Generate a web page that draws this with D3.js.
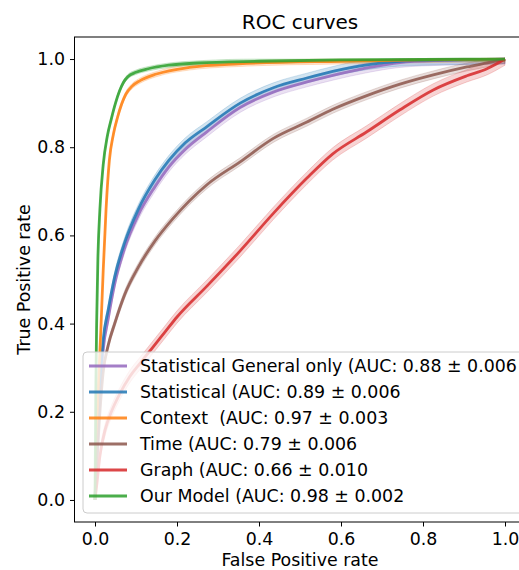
<!DOCTYPE html>
<html>
<head>
<meta charset="utf-8">
<script src="https://cdn.jsdelivr.net/npm/d3@7/dist/d3.min.js"></script>
<style>
  body { margin: 0; background: #fff; }
  text { font-family: "DejaVu Sans", sans-serif; fill: #000; }
</style>
</head>
<body>
<div id="chart"></div>
<script>
// ROC curves (mean curve + std band)

var labels = [
  "Statistical General only (AUC: 0.88 \u00b1 0.006",
  "Statistical (AUC: 0.89 \u00b1 0.006",
  "Context  (AUC: 0.97 \u00b1 0.003",
  "Time (AUC: 0.79 \u00b1 0.006",
  "Graph (AUC: 0.66 \u00b1 0.010",
  "Our Model (AUC: 0.98 \u00b1 0.002"
];
var colors = ["#9467bd", "#1f77b4", "#ff7f0e", "#8c564b", "#d62728", "#2ca02c"];
var bandStd = [0.011, 0.011, 0.006, 0.009, 0.014, 0.005];

var statGenFpr = [0, 0.005, 0.01, 0.02, 0.032, 0.048, 0.072, 0.105, 0.146, 0.18, 0.22, 0.273, 0.354, 0.435, 0.517, 0.58, 0.663, 0.744, 0.85, 1.0];
var statGenTpr = [0, 0.10, 0.20, 0.34, 0.41, 0.49, 0.57, 0.645, 0.71, 0.755, 0.795, 0.835, 0.89, 0.925, 0.948, 0.963, 0.98, 0.992, 0.997, 1.0];

var statFpr = [0, 0.005, 0.01, 0.02, 0.032, 0.048, 0.072, 0.105, 0.146, 0.18, 0.22, 0.273, 0.354, 0.435, 0.517, 0.58, 0.663, 0.744, 0.85, 1.0];
var statTpr = [0, 0.12, 0.22, 0.363, 0.43, 0.506, 0.583, 0.658, 0.726, 0.77, 0.81, 0.847, 0.9, 0.935, 0.957, 0.972, 0.987, 0.995, 0.998, 1.0];

var contextFpr = [0, 0.004, 0.008, 0.014, 0.02, 0.027, 0.035, 0.045, 0.055, 0.065, 0.075, 0.09, 0.11, 0.15, 0.23, 0.35, 0.6, 0.8, 1.0];
var contextTpr = [0, 0.13, 0.25, 0.38, 0.52, 0.66, 0.77, 0.83, 0.868, 0.898, 0.92, 0.938, 0.951, 0.966, 0.981, 0.989, 0.995, 0.998, 1.0];

var timeFpr = [0, 0.005, 0.01, 0.02, 0.032, 0.048, 0.072, 0.105, 0.146, 0.19, 0.273, 0.354, 0.435, 0.517, 0.58, 0.663, 0.744, 0.825, 0.907, 0.971, 1.0];
var timeTpr = [0, 0.09, 0.17, 0.29, 0.35, 0.40, 0.465, 0.527, 0.587, 0.638, 0.715, 0.767, 0.82, 0.857, 0.886, 0.917, 0.943, 0.964, 0.982, 0.994, 1.0];

var graphFpr = [0, 0.005, 0.012, 0.025, 0.04, 0.06, 0.085, 0.11, 0.14, 0.17, 0.2, 0.273, 0.354, 0.435, 0.517, 0.58, 0.663, 0.744, 0.825, 0.907, 0.956, 1.0];
var graphTpr = [0, 0.04, 0.10, 0.16, 0.20, 0.24, 0.28, 0.31, 0.345, 0.38, 0.415, 0.485, 0.565, 0.65, 0.73, 0.785, 0.835, 0.885, 0.93, 0.962, 0.978, 1.0];

var oursFpr = [0, 0.002, 0.004, 0.007, 0.012, 0.02, 0.03, 0.04, 0.05, 0.06, 0.07, 0.08, 0.1, 0.13, 0.18, 0.25, 0.4, 0.6, 0.8, 1.0];
var oursTpr = [0, 0.25, 0.4, 0.545, 0.66, 0.76, 0.825, 0.865, 0.9, 0.928, 0.948, 0.96, 0.97, 0.978, 0.986, 0.991, 0.995, 0.998, 0.999, 1.0];

var xTicks = [0.0, 0.2, 0.4, 0.6, 0.8, 1.0];
var yTicks = [0.0, 0.2, 0.4, 0.6, 0.8, 1.0];

var fprs = [statGenFpr, statFpr, contextFpr, timeFpr, graphFpr, oursFpr];
var tprs = [statGenTpr, statTpr, contextTpr, timeTpr, graphTpr, oursTpr];

var series = labels.map(function(name, i) {
  return {
    name: name,
    color: colors[i],
    std: bandStd[i],
    points: fprs[i].map(function(f, j) { return { fpr: f, tpr: tprs[i][j] }; })
  };
});

var svgWidth = 519;
var svgHeight = 570;

var plot = { left: 74.5, right: 525.5, top: 37, bottom: 522 };

var svg = d3.select("#chart")
  .append("svg")
  .attr("width", svgWidth)
  .attr("height", svgHeight);

var xScale = d3.scaleLinear()
  .domain([-0.05, 1.05])
  .range([plot.left, plot.right]);

var yScale = d3.scaleLinear()
  .domain([-0.05, 1.05])
  .range([plot.bottom, plot.top]);

// bands
var area = d3.area()
  .x(d => xScale(d.fpr))
  .y0(d => yScale(Math.max(d.tpr - d.s, 0)))
  .y1(d => yScale(Math.min(d.tpr + d.s, 1)))
  .curve(d3.curveMonotoneX);

var line = d3.line()
  .x(d => xScale(d.fpr))
  .y(d => yScale(d.tpr))
  .curve(d3.curveMonotoneX);

series.forEach(function(s) {
  var pts = s.points.map(p => ({ fpr: p.fpr, tpr: p.tpr, s: s.std }));
  svg.append("path")
    .attr("d", area(pts))
    .attr("fill", s.color)
    .attr("fill-opacity", 0.2)
    .attr("stroke", s.color)
    .attr("stroke-opacity", 0.2)
    .attr("stroke-width", 1);
});

series.forEach(function(s) {
  svg.append("path")
    .attr("d", line(s.points))
    .attr("fill", "none")
    .attr("stroke", s.color)
    .attr("stroke-opacity", 0.85)
    .attr("stroke-width", 2.8)
    .attr("stroke-linejoin", "round");
});

// axes
var bottomAxis = d3.axisBottom(xScale)
  .tickValues(xTicks)
  .tickFormat(d3.format(".1f"))
  .tickSize(4.5)
  .tickPadding(6);

var leftAxis = d3.axisLeft(yScale)
  .tickValues(yTicks)
  .tickFormat(d3.format(".1f"))
  .tickSize(4.5)
  .tickPadding(5);

var gx = svg.append("g")
  .attr("transform", `translate(0, ${plot.bottom})`)
  .call(bottomAxis);

var gy = svg.append("g")
  .attr("transform", `translate(${plot.left}, 0)`)
  .call(leftAxis);

[gx, gy].forEach(function(g) {
  g.select(".domain").remove();
  g.selectAll(".tick line").attr("stroke", "#000").attr("stroke-width", 1);
  g.selectAll(".tick text")
    .style("font-family", "DejaVu Sans")
    .style("font-size", "17.4px")
    .attr("fill", "#000");
});

// spines
svg.append("rect")
  .attr("x", plot.left)
  .attr("y", plot.top)
  .attr("width", plot.right - plot.left)
  .attr("height", plot.bottom - plot.top)
  .attr("fill", "none")
  .attr("stroke", "#000")
  .attr("stroke-width", 1);

// legend
var legend = svg.append("g");

legend.append("rect")
  .attr("x", 83)
  .attr("y", 352)
  .attr("width", 445)
  .attr("height", 161)
  .attr("rx", 4)
  .attr("fill", "#fff")
  .attr("fill-opacity", 0.8)
  .attr("stroke", "#ccc")
  .attr("stroke-width", 1);

series.forEach(function(s, i) {
  var yy = 366 + i * 26;
  legend.append("line")
    .attr("x1", 89)
    .attr("x2", 127)
    .attr("y1", yy)
    .attr("y2", yy)
    .attr("stroke", s.color)
    .attr("stroke-opacity", 0.85)
    .attr("stroke-width", 2.8);
  legend.append("text")
    .attr("x", 140)
    .attr("y", yy + 6)
    .attr("xml:space", "preserve")
    .style("white-space", "pre")
    .style("font-size", "17.4px")
    .text(s.name);
});

// titles
svg.append("text")
  .attr("x", (plot.left + plot.right) / 2)
  .attr("y", 29)
  .style("text-anchor", "middle")
  .style("font-size", "20px")
  .text("ROC curves");

svg.append("text")
  .attr("x", (plot.left + plot.right) / 2)
  .attr("y", 566)
  .style("text-anchor", "middle")
  .style("font-size", "17.4px")
  .text("False Positive rate");

svg.append("text")
  .attr("transform", "rotate(-90)")
  .attr("x", -(plot.top + plot.bottom) / 2)
  .attr("y", 30)
  .style("text-anchor", "middle")
  .style("font-size", "17.4px")
  .text("True Positive rate");
</script>
</body>
</html>
